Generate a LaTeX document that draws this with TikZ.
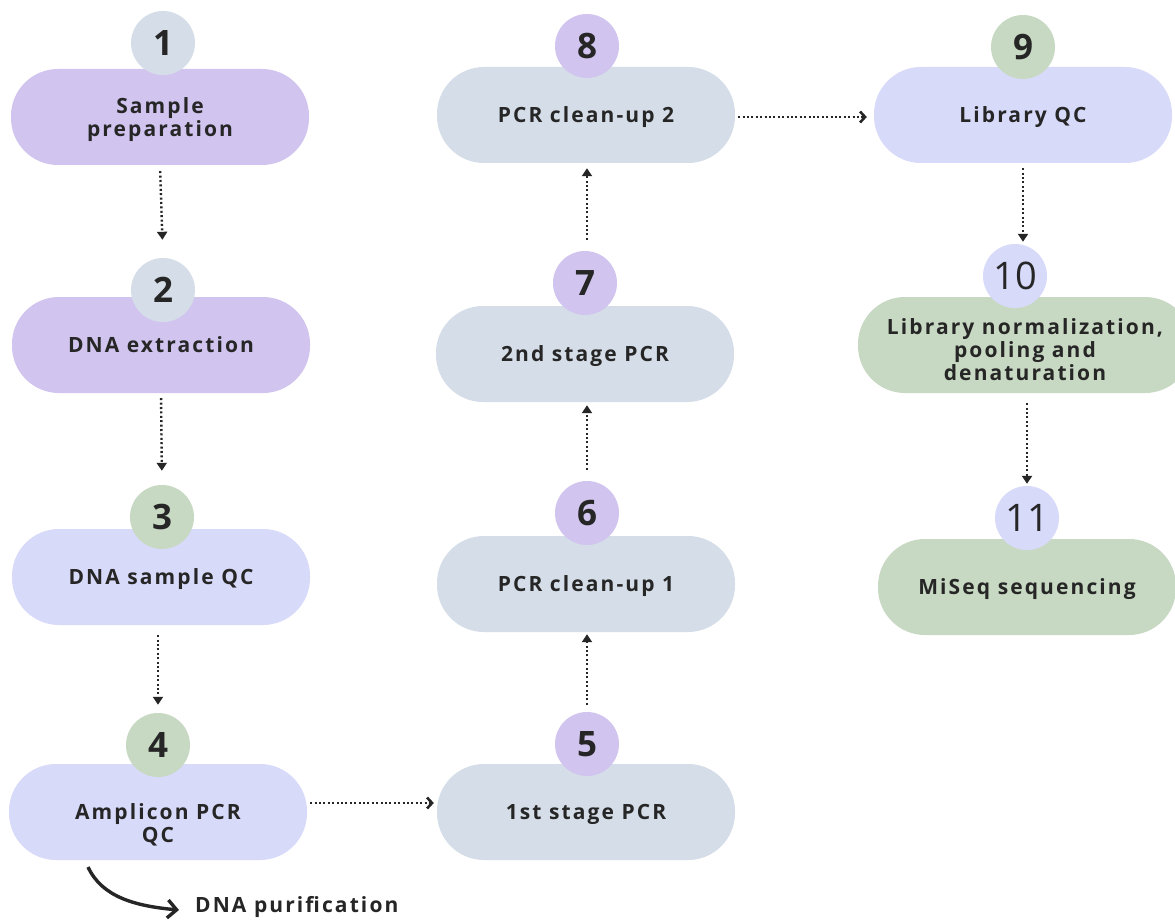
\documentclass[tikz,border=0pt]{standalone}
\usepackage{fontspec}
\setmainfont{Open Sans}
\newfontfamily\lblfont[LetterSpace=10]{Open Sans}
\usetikzlibrary{arrows.meta}
\definecolor{cpurple}{HTML}{D1C4EF}
\definecolor{cgrey}{HTML}{D5DEE8}
\definecolor{clav}{HTML}{D8DAFA}
\definecolor{cgreen}{HTML}{C8D9C3}
\definecolor{ctext}{HTML}{262626}
\begin{document}
\begin{tikzpicture}[x=1pt,y=-1pt,
  pill/.style={rectangle, rounded corners=47pt, minimum width=298pt, minimum height=96pt,
    inner sep=0pt, align=center, text=ctext, text depth=0pt,
    font=\lblfont\bfseries\fontsize{21}{23}\selectfont},
  txt/.style={inner sep=0pt, align=center, text=ctext,
    font=\lblfont\bfseries\fontsize{21}{23}\selectfont},
  num/.style={circle, minimum size=64pt, inner sep=0pt, text=ctext,
    font=\bfseries\fontsize{35}{35}\selectfont},
  numlight/.style={num, font=\fontsize{38}{38}\selectfont},
  flowv/.style={line width=2.4pt, ctext, dash pattern=on 2pt off 2.4pt,
    -{Triangle[width=10pt,length=8pt]}},
  flowh/.style={line width=2.4pt, ctext, dash pattern=on 2pt off 2.4pt,
    -{Straight Barb[width=11pt,length=5pt,line width=2.6pt]}},
  curvearrow/.style={line width=3.4pt, ctext, -{Straight Barb[width=18pt,length=9pt,line width=3.4pt]}}]
\fill[white] (0,0) rectangle (1175,920);
\useasboundingbox (0,0) rectangle (1175,920);

% pills
\node[pill, fill=cpurple] (p1) at (160,117) {Sample\\preparation};
\node[pill, fill=cpurple] (p2) at (161,345) {DNA extraction};
\node[pill, fill=clav]    (p3) at (161,577) {DNA sample QC};
\node[pill, fill=clav]    (p4) at (158,812) {};
\node[txt] (t4) at ([yshift=-13pt]p4.center) {Amplicon PCR\\QC};
\node[pill, fill=cgrey]   (p5) at (586,812) {1st stage PCR};
\node[pill, fill=cgrey]   (p6) at (586,584) {PCR clean-up 1};
\node[pill, fill=cgrey]   (p7) at (585,354) {2nd stage PCR};
\node[pill, fill=cgrey]   (p8) at (586,115) {PCR clean-up 2};
\node[pill, fill=clav]    (p9) at (1023,115) {Library QC};
\node[pill, fill=cgreen, minimum width=334pt] (p10) at (1025,345) {};
\node[txt] (t10) at ([yshift=-5pt]p10.center) {Library normalization,\\pooling and\\denaturation};
\node[pill, fill=cgreen]  (p11) at (1027,587) {MiSeq sequencing};

% numbers
\node[num, fill=cgrey]   (c1) at (163,43) {1};
\node[num, fill=cgrey]   (c2) at (163,290) {2};
\node[num, fill=cgreen]  (c3) at (162,517) {3};
\node[num, fill=cgreen]  (c4) at (158,745) {4};
\node[num, fill=cpurple] (c5) at (587,744) {5};
\node[num, fill=cpurple] (c6) at (587,513) {6};
\node[num, fill=cpurple] (c7) at (585,283) {7};
\node[num, fill=cpurple] (c8) at (587,46) {8};
\node[num, fill=cgreen]  (c9) at (1023,47) {9};
\node[numlight, fill=clav] (c10) at (1015,276) {10};
\node[numlight, fill=clav] (c11) at (1027,518) {11};

% connectors
\draw[flowv, shorten <=6pt, shorten >=18pt] (p1.south) -- (c2.north);
\draw[flowv, shorten <=5pt, shorten >=14pt] (p2.south) -- (c3.north);
\draw[flowv, shorten <=10pt, shorten >=8pt] (p3.south -| c4.north) -- (c4.north);
\draw[flowh, shorten <=3pt, shorten >=3pt] ([yshift=9pt]p4.east) -- ([yshift=9pt]p5.west);
\draw[flowv, shorten <=7pt, shorten >=2pt] (c5.north) -- (p6.south -| c5.north);
\draw[flowv, shorten <=11pt, shorten >=3pt] (c6.north) -- (p7.south -| c6.north);
\draw[flowv, shorten <=11pt, shorten >=5pt] (c7.north -| c8.south) -- (p8.south -| c8.south);
\draw[flowh, shorten <=3pt, shorten >=7pt] ([yshift=-2pt]p8.east) -- ([yshift=-2pt]p9.west);
\draw[flowv, shorten <=5pt, shorten >=2pt] (p9.south) -- (c9.south |- c10.north);
\draw[flowv, shorten <=10pt, shorten >=2pt] (p10.south -| c11.north) -- (c11.north);

% DNA purification
\node[txt, anchor=west] (purif) at (195,907) {DNA purification};
\coordinate (cs) at (88,867);
\draw[curvearrow] (cs) .. controls (102,897) and (135,906) .. ([xshift=-16pt,yshift=-3pt]purif.west);
\end{tikzpicture}
\end{document}
